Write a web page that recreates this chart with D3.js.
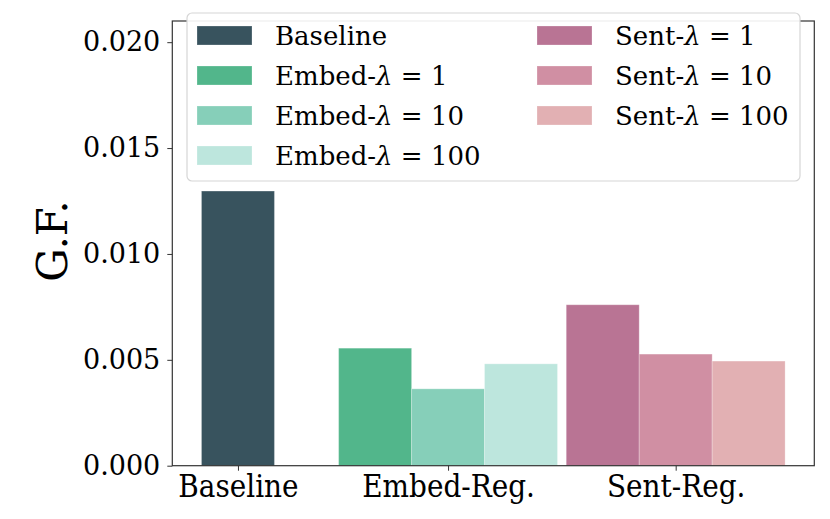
<!DOCTYPE html>
<html>
<head>
<meta charset="utf-8">
<script src="https://d3js.org/d3.v7.min.js"></script>
<style>
  body { margin: 0; background: #fff; }
  svg { display: block; }
</style>
</head>
<body>
<div id="chart"></div>
<script>
// categories on the x axis and where their middle bar sits
const groups = ['Baseline', 'Embed-Reg.', 'Sent-Reg.']
const groupPos = [0, 0.48, 1.0]
const barW = 1 / 6

// one entry per bar / legend item
const seriesName = ['Baseline', 'Embed', 'Embed', 'Embed', 'Sent', 'Sent', 'Sent']
const seriesLambda = [null, 1, 10, 100, 1, 10, 100]
const seriesGroup = [0, 1, 1, 1, 2, 2, 2]
const seriesOffset = [0, -1, 0, 1, -1, 0, 1]
const seriesValue = [0.01297, 0.00555, 0.00363, 0.00481, 0.00760, 0.00527, 0.00494]
const seriesColor = ['#38535e', '#52b68b', '#86cfb9', '#bde6dd', '#b97494', '#d08fa3', '#e2b0b3']

const yTicks = [0, 0.005, 0.010, 0.015, 0.020]
const yMax = 0.021

const W = 830, H = 519
const axL = 172.3, axR = 814.3, axT = 21, axB = 465.7

const svg = d3.select('#chart').append('svg').attr('width', W).attr('height', H)

let x = d3.scaleLinear().domain([-0.15, 1.3167]).range([axL, axR])
let y = d3.scaleLinear().domain([0, yMax]).range([axB, axT])

let data = seriesValue.map((v, i) => ({
    v: v,
    c: seriesColor[i],
    x0: groupPos[seriesGroup[i]] + seriesOffset[i] * barW - barW / 2
}))

svg.append('g').selectAll('rect')
    .data(data)
    .join('rect')
    .attr('x', d => x(d.x0))
    .attr('width', d => x(d.x0 + barW) - x(d.x0))
    .attr('y', d => y(d.v))
    .attr('height', d => y(0) - y(d.v))
    .attr('fill', d => d.c)
    .attr('stroke', 'rgba(255,255,255,0.25)')
    .attr('stroke-width', 1)

// y axis
let yAxis = svg.append('g')
    .attr('transform', `translate(${axL},0)`)
    .call(d3.axisLeft(y).tickValues(yTicks).tickFormat(d3.format('.3f')).tickSize(5).tickPadding(7))
yAxis.select('.domain').remove()
yAxis.selectAll('line').attr('stroke', '#333')
yAxis.selectAll('text')
    .attr('font-family', 'DejaVu Serif')
    .attr('font-size', 27)
    .attr('fill', '#000')

// x axis
let xAxis = svg.append('g')
    .attr('transform', `translate(0,${axB})`)
    .call(d3.axisBottom(x).tickValues(groupPos).tickFormat((d, i) => groups[i]).tickSize(5).tickPadding(4))
xAxis.select('.domain').remove()
xAxis.selectAll('line').attr('stroke', '#333')
xAxis.selectAll('text')
    .attr('font-family', 'DejaVu Serif')
    .attr('font-stretch', 'condensed')
    .attr('font-size', 31)
    .attr('fill', '#000')

// spines
svg.append('rect')
    .attr('x', axL).attr('y', axT)
    .attr('width', axR - axL).attr('height', axB - axT)
    .attr('fill', 'none')
    .attr('stroke', '#333')
    .attr('stroke-width', 1.2)

// y label
svg.append('text')
    .attr('transform', 'translate(67,241) rotate(-90)')
    .attr('text-anchor', 'middle')
    .attr('font-family', 'DejaVu Serif')
    .attr('font-size', 42)
    .text('G.F.')

// legend
let lg = svg.append('g')
lg.append('rect')
    .attr('x', 187).attr('y', 13)
    .attr('width', 613).attr('height', 168)
    .attr('rx', 5)
    .attr('fill', 'rgba(255,255,255,0.92)')
    .attr('stroke', '#d6d6d6')
    .attr('stroke-width', 1.2)

let items = seriesName.map((n, i) => {
    let col = i < 4 ? 0 : 1
    let row = i < 4 ? i : i - 4
    return { name: n, lam: seriesLambda[i], c: seriesColor[i], col: col, row: row }
})
let colX = [197, 537]
let item = lg.selectAll('g.item')
    .data(items)
    .join('g')
    .attr('class', 'item')
    .attr('transform', d => `translate(${colX[d.col]},${26 + d.row * 40})`)
item.append('rect')
    .attr('width', 55).attr('height', 19)
    .attr('fill', d => d.c)
    .attr('stroke', 'rgba(255,255,255,0.25)')
let t = item.append('text')
    .attr('x', 78).attr('y', 19)
    .attr('font-family', 'DejaVu Serif')
    .attr('font-size', 26)
t.append('tspan').text(d => d.lam === null ? d.name : d.name + '-')
t.filter(d => d.lam !== null).append('tspan')
    .attr('font-style', 'italic')
    .text('λ')
t.filter(d => d.lam !== null).append('tspan')
    .text(d => ' = ' + d.lam)
</script>
</body>
</html>
